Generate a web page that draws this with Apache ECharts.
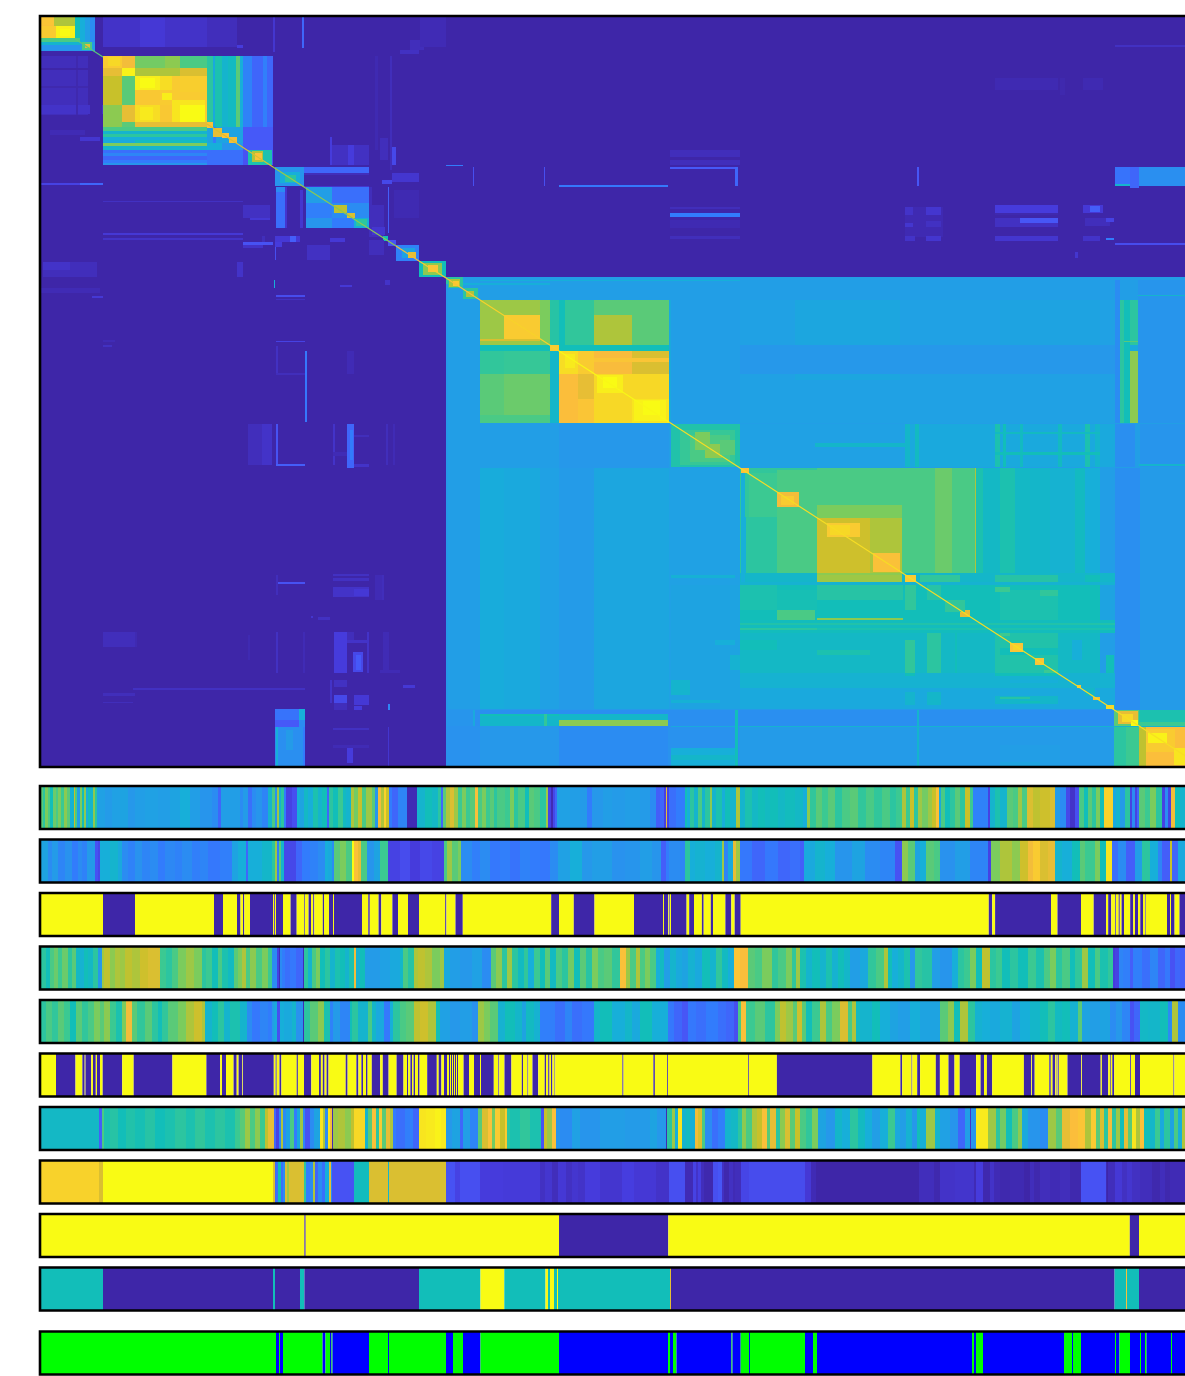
<!DOCTYPE html>
<html><head><meta charset="utf-8">
<style>html,body{margin:0;padding:0;background:#fff;overflow:hidden;width:1185px;height:1376px}#c{width:1240px;height:1376px}</style>
<script src="https://cdn.jsdelivr.net/npm/echarts@6/dist/echarts.min.js"></script></head>
<body><div id="c"></div><script>
// Matrix regions, later entries painted over earlier: [col0,col1,row0,row1,value]
const matrixBase=[
[40,1201,16,767,0],
[446,1201,277,767,.36],
// upper-left cluster
[41,95,17,51,.36],[41,75,17,38,.85],[41,54,17,25,.86],[54,75,17,26,.72],[41,56,26,38,.88],[56,75,26,38,.98],[60,70,29,36,1],
[75,80,17,38,.5],[80,85,17,42,.42],[85,90,17,42,.36],[90,95,17,42,.3],[41,80,38,42,.6],[41,80,42,45,.45],[41,80,45,51,.33],[82,92,42,50,.6],[85,90,44,48,.8],
[103,207,17,47,.05],[140,165,17,47,.07],[207,237,17,47,.03],[237,243,45,48,.08],[302,304,17,48,.2],[273,275,17,52,.06],
// large upper cluster
[103,273,56,165,.2],[103,122,56,68,.88],[108,120,57,66,.92],[122,135,56,68,.82],[103,122,68,76,.8],[122,135,68,76,.98],
[103,122,76,105,.75],[122,135,76,105,.62],[103,122,105,127,.68],[122,135,105,122,.8],[122,135,122,127,.62],
[135,207,56,68,.68],[135,165,56,68,.65],[180,207,56,68,.6],[135,207,68,76,.72],[180,207,68,76,.78],
[135,207,76,127,.88],[135,160,76,90,.97],[140,155,78,88,1],[160,172,76,90,.93],[180,205,76,92,.89],[135,160,90,105,.87],[162,172,93,100,.97],[172,205,100,122,.95],[180,205,105,122,1],[135,160,105,123,.93],[140,153,107,120,.96],[160,172,105,122,.87],[135,207,122,127,.8],
[207,213,56,127,.55],[213,222,56,127,.52],[222,228,56,127,.45],[228,236,56,127,.48],[236,240,56,127,.62],[240,243,56,127,.42],[243,252,56,127,.27],[252,263,56,127,.2],[263,267,56,127,.26],[267,273,56,127,.2],[213,215,56,127,.4],
[103,207,127,131,.6],[103,207,131,134,.45],[103,207,134,137,.55],[103,207,137,140,.42],[103,135,140,143,.4],[135,207,140,143,.48],[103,207,143,146,.66],[103,207,146,150,.45],[103,207,150,153,.22],[103,207,153,156,.28],[103,207,156,160,.2],[103,207,160,163,.25],[103,207,163,165,.33],
[207,243,127,143,.38],[207,222,143,150,.42],[222,243,143,150,.33],[207,243,150,165,.22],[213,216,127,143,.25],[243,273,127,150,.17],[243,273,150,165,.15],[207,213,122,128,.85],[213,222,128,137,.8],[222,229,133,138,.85],[229,237,137,143,.82],[248,272,150,165,.52],[252,263,151,162,.72],[255,262,153,160,.85],
// faint left columns
[41,88,56,115,.03],[41,103,105,114,.05],[41,88,86,88,.01],[76,78,56,115,.01],[90,102,56,165,0],[80,100,137,141,.06],[41,88,68,70,.0],[41,88,122,124,.0],[50,85,130,135,.02],
[43,97,262,277,.03],[43,70,262,270,.05],[237,243,262,277,.05],[41,103,183,185,.1],[80,103,183,185,.2],
// second and third clusters
[275,304,167,186,.33],[280,300,172,183,.42],[285,296,175,182,.55],[304,369,167,173,.2],[304,369,173,175,.03],[304,369,186,187,.06],
[306,369,187,228,.25],[306,332,187,203,.36],[332,369,187,203,.22],[306,332,203,218,.26],[332,369,203,218,.3],[306,332,218,228,.33],[354,369,218,228,.42],[356,367,219,226,.55],[334,347,205,213,.74],[347,355,213,218,.78],
[276,285,187,228,.22],[276,285,187,192,.3],[285,287,187,228,.06],[369,372,187,237,.03],[388,389,187,233,.18],[370,384,205,237,.03],[394,419,190,218,.015],[300,303,190,228,.06],
[332,369,145,165,.04],[348,354,145,165,.08],[390,396,147,165,.12],[392,419,173,182,.06],[382,392,180,184,.12],[330,332,137,165,.08],[375,378,56,150,.015],[390,392,56,170,.03],[380,388,138,160,.03],[400,419,50,54,.04],[410,424,40,50,.03],[420,446,17,47,.02],
[103,243,201,202,.04],[243,270,205,218,.04],[250,270,218,220,.07],[103,243,233,235,.07],[103,243,238,240,.05],[243,273,242,245,.15],[243,263,245,248,.05],[275,276,243,260,.14],[307,330,245,260,.04],[330,345,238,242,.07],[275,300,236,242,.07],[262,265,236,242,.03],[275,282,242,247,.08],[290,296,236,242,.18],
[396,419,245,261,.27],[402,415,248,258,.38],[408,416,252,258,.8],[419,446,261,277,.5],[423,442,263,275,.68],[428,438,265,272,.86],[383,388,236,241,.5],[372,385,227,235,.06],[388,396,240,246,.15],[369,384,240,255,.03],
// thin marks in the upper right
[446,463,165,166,.25],[473,474,167,186,.14],[544,545,167,186,.14],[559,668,185,187,.24],[670,740,150,157,.03],[670,740,160,165,.03],[670,735,167,169,.17],[735,738,167,186,.2],[917,919,167,186,.16],[670,740,207,209,.03],[670,740,213,217,.25],[670,740,220,228,.015],[670,740,236,239,.03],
[995,1058,78,90,.015],[1060,1065,78,95,.01],[1083,1103,78,90,.015],
[905,943,207,237,.015],[905,913,207,215,.05],[926,941,207,215,.06],[926,941,221,227,.04],[905,913,223,227,.06],[995,1058,205,213,.08],[995,1058,213,215,.01],[995,1058,218,227,.04],[1020,1058,218,223,.16],[1083,1103,205,213,.07],[1090,1100,206,212,.18],[1085,1110,218,226,.03],[1106,1114,218,222,.1],[905,915,236,241,.05],[926,941,236,241,.06],[995,1058,236,241,.06],[1083,1100,236,241,.05],[1106,1114,238,240,.25],[1115,1190,243,245,.13],[1075,1078,252,258,.06],
[1115,1130,167,186,.23],[1130,1139,167,186,.2],[1139,1201,167,186,.31],[1115,1130,184,186,.45],[1130,1139,186,188,.2],[1115,1190,45,47,.04],
// right block area
[446,463,277,288,.55],[449,460,279,287,.72],[453,459,281,286,.88],[463,478,288,299,.55],[466,474,291,297,.72],[463,550,283,285,.42],
[480,1201,278,280,.36],[480,740,280,281,.42],
// paired cluster
[480,669,300,423,.6],[480,559,300,345,.7],[504,540,315,339,.88],[480,504,339,343,.7],[480,559,339,341,.78],
[540,550,300,345,.66],[550,559,300,345,.54],[559,594,300,345,.56],[559,565,300,345,.5],[594,669,300,315,.62],[594,632,315,345,.72],[632,669,315,345,.62],[480,669,345,351,.5],[550,559,345,351,.88],
[480,504,351,374,.56],[504,550,351,374,.57],[550,559,351,423,.46],[480,504,374,423,.62],[504,550,374,423,.64],[480,550,415,423,.6],
[559,578,351,374,.93],[565,575,354,368,.96],[578,594,351,374,.88],[594,632,351,374,.83],[632,669,351,374,.78],[594,669,358,362,.86],
[559,578,374,423,.84],[578,594,374,399,.8],[578,594,399,423,.86],[594,632,374,423,.92],[597,623,375,393,.97],[603,617,377,388,1],[632,669,374,399,.92],[632,669,399,423,.95],[634,666,400,421,.98],[643,660,401,415,1],
[669,671,300,423,.4],[1120,1130,300,423,.5],[1130,1138,300,345,.55],[1130,1138,351,423,.68],[1130,1138,345,351,.4],[1120,1138,341,342,.62],[1120,1124,300,423,.55],
[740,1115,300,423,.37],[795,900,300,380,.39],[1000,1100,300,345,.38],[740,1115,345,374,.34],[1115,1120,280,423,.3],[1138,1201,280,423,.33],[1138,1201,295,296,.45],
[480,559,424,468,.36],[559,669,424,468,.34],
// sparse cluster
[671,740,424,467,.53],[680,735,430,465,.57],[690,730,435,462,.6],[705,722,444,458,.68],[695,710,432,450,.66],[720,735,440,455,.62],
[740,905,424,467,.37],[815,905,443,447,.46],[905,1115,424,467,.4],[905,910,424,467,.46],[915,919,424,467,.48],[995,1000,424,467,.52],[1003,1006,424,467,.5],[1020,1023,424,467,.48],[1058,1062,424,467,.48],[1085,1090,424,467,.52],[1095,1100,424,467,.45],[995,1100,432,434,.48],[995,1100,452,455,.5],[1115,1135,424,467,.31],[1140,1201,424,467,.33],[1139,1190,464,466,.45],
// lower columns
[480,504,468,710,.41],[504,540,468,710,.4],[540,559,468,710,.37],[559,594,468,710,.35],[594,669,468,710,.39],[669,740,468,710,.37],[446,448,284,767,.34],[1115,1140,468,710,.31],[1140,1201,468,710,.35],
// long lower-right cluster
[740,1115,468,710,.46],[740,817,468,517,.56],[741,749,468,473,.85],[741,745,473,710,.42],[749,777,473,517,.58],[777,817,470,492,.6],[777,817,492,517,.6],[777,799,492,507,.82],[781,794,496,505,.88],
[817,902,468,518,.6],[817,902,505,518,.66],[902,919,468,573,.6],[919,975,468,573,.6],[935,952,468,573,.64],[975,983,468,573,.52],[983,1000,468,573,.47],[1000,1015,468,573,.52],[1015,1030,468,573,.47],[1030,1050,468,573,.46],[1050,1075,468,573,.44],[1075,1085,468,573,.48],[1085,1100,468,573,.42],[1100,1115,468,573,.36],[975,976,468,573,.72],
[817,870,518,573,.78],[817,870,518,582,.76],[827,860,523,537,.88],[830,850,525,535,.92],[870,902,518,552,.72],[870,902,552,573,.72],[873,900,553,572,.85],[817,902,573,575,.68],[817,902,575,582,.7],[740,817,517,573,.55],[777,817,517,573,.6],[741,746,517,573,.42],
[740,1115,582,585,.44],[905,916,575,582,.88],[920,960,575,582,.56],[995,1058,575,582,.54],[1085,1100,575,582,.5],
[740,1115,585,620,.5],[740,777,585,610,.52],[777,817,590,610,.51],[817,903,585,600,.54],[905,916,585,610,.56],[927,941,585,600,.54],[1000,1058,590,620,.52],[995,1010,587,592,.58],[1040,1058,590,596,.56],[1100,1115,585,633,.38],
[777,815,610,620,.6],[817,903,618,620,.68],[960,970,610,617,.8],[945,965,600,612,.56],
[740,1115,620,633,.49],[740,1115,623,625,.53],[740,1115,628,630,.52],[740,817,628,630,.55],
[740,1115,633,673,.47],[740,777,640,650,.5],[817,870,650,655,.52],[995,1058,633,673,.53],[1000,1058,648,655,.5],[905,915,640,673,.56],[927,941,633,673,.55],[955,957,633,673,.5],[1010,1023,643,652,.86],[1013,1020,645,650,.9],[1035,1044,658,665,.86],[1000,1010,633,636,.58],[1044,1058,670,673,.58],[1072,1082,640,660,.42],[1100,1115,633,673,.36],[1106,1114,655,673,.5],
[740,1115,673,688,.44],[905,915,673,676,.5],[995,1058,673,676,.5],[1010,1058,680,683,.42],[740,1115,688,710,.4],[905,915,692,705,.45],[927,941,692,705,.46],[995,1058,696,704,.46],[1000,1030,697,699,.54],[1020,1040,701,703,.5],[1077,1081,685,688,.86],[1093,1100,697,700,.82],[1106,1114,705,709,.92],[1085,1095,688,696,.46],
[671,735,575,578,.43],[671,740,585,710,.38],[671,690,680,695,.45],[671,720,700,703,.43],[715,735,640,645,.42],[730,740,655,670,.44],
[446,1115,709,711,.34],
// bottom band
[446,1115,710,726,.31],[446,474,710,726,.33],[480,559,714,726,.46],[480,559,714,716,.5],[544,547,714,726,.56],[559,668,714,720,.46],[559,668,720,726,.68],[473,475,710,767,.4],[544,545,726,767,.42],[735,738,710,767,.5],
[446,740,726,767,.32],[739,1114,726,767,.35],[559,668,726,767,.3],[480,559,726,767,.34],[671,735,748,766,.42],[671,735,755,760,.46],[735,738,726,767,.5],[917,919,710,767,.45],[739,1114,726,727,.44],[671,735,726,727,.4],[1000,1060,745,767,.36],[1000,1040,762,767,.38],
// corner cluster
[1114,1139,710,726,.62],[1118,1138,711,724,.8],[1122,1133,714,722,.92],[1131,1138,720,726,1],[1139,1201,710,726,.52],[1139,1201,722,726,.58],[1114,1201,726,727,.45],
[1114,1139,727,767,.58],[1114,1126,727,767,.55],[1139,1201,727,767,.84],[1146,1175,729,752,.88],[1148,1167,733,743,.98],[1174,1185,748,765,.95],[1139,1146,727,767,.74],
// faint left of the right block
[275,305,709,720,.23],[299,305,709,720,.42],[275,305,720,727,.17],[299,305,720,727,.3],[275,305,727,766,.31],[276,278,727,766,.42],[286,293,730,750,.35],[303,305,727,766,.25],[388,389,727,766,.06],
[347,353,748,763,.08],[333,369,728,730,.04],[333,369,745,748,.02],
[347,354,424,468,.2],[350,353,430,460,.25],[276,278,424,465,.15],[276,305,464,466,.18],[248,262,424,465,.03],[262,272,424,465,.05],[333,335,424,465,.05],[354,369,435,437,.03],[333,347,452,456,.02],[386,388,424,465,.03],[393,395,424,465,.02],[354,369,464,467,.05],
[305,307,351,422,.24],[276,278,346,375,.04],[276,305,373,375,.03],[276,305,341,342,.1],[347,354,351,374,.02],[103,115,340,342,.02],[274,275,280,288,.42],[276,305,295,297,.13],[276,305,299,300,.04],[340,352,285,287,.07],[385,390,280,285,.05],[41,100,288,293,.02],[92,103,296,298,.07],[103,112,345,347,.04],
[333,369,574,576,.04],[333,369,578,581,.04],[333,369,587,597,.05],[354,369,589,596,.07],[276,305,582,584,.15],[375,384,575,600,.02],[382,384,575,600,.03],[276,278,575,595,.03],
[334,347,632,673,.08],[347,354,632,640,.03],[347,369,640,643,.05],[353,363,652,672,.12],[356,361,655,670,.17],[367,369,632,673,.05],[276,278,632,673,.04],[303,305,632,673,.02],[383,389,632,673,.02],[103,135,632,647,.03],[135,137,632,647,.015],[248,250,635,660,.015],[318,330,617,620,.04],[311,313,616,618,.06],
[133,305,688,690,.04],[103,135,693,696,.03],[334,347,680,687,.04],[334,347,695,703,.12],[354,369,695,705,.07],[334,347,703,710,.03],[354,362,706,710,.08],[330,332,680,703,.05],[388,390,704,710,.28],[403,415,685,688,.07],[103,133,702,703,.03],[380,400,670,673,.02]
];

// Diagonal traces of the matrix: [col0,row0,col1,row1,value]
const diagonalTrace=[
[75,39,103,57,.62],[207,124,273,167,.78],[273,167,304,187,.7],[304,187,396,246,.68],[396,246,419,261,.82],[419,261,446,278,.88],[446,278,480,300,.85],[480,300,559,351,.9],[559,351,669,422,.99],[669,422,740,468,.93],[740,468,1201,766,.93]
];

// Colour strips: runs of [end column, value]
const strip1=[[43,.62],[45,.55],[48,.66],[50,.6],[53,.5],[56,.64],[58,.6],[61,.66],[64,.58],[67,.68],[70,.62],[72,.42],[74,.45],[75,.75],[77,.6],[80,.36],[82,.66],[84,.5],[86,.68],[88,.42],[90,.5],[93,.45],[95,.68],[97,.55],[105,.37],[112,.35],[120,.37],[128,.38],[135,.34],[145,.36],[158,.37],[170,.36],[180,.38],[190,.42],[200,.36],[212,.33],[218,.3],[221,.2],[240,.36],[243,.3],[248,.35],[252,.22],[256,.3],[262,.33],[268,.28],[272,.45],[275,.6],[277,.32],[279,.7],[281,.45],[284,.55],[286,.25],[292,.1],[297,.14],[300,.42],[304,.38],[308,.47],[313,.42],[318,.52],[322,.45],[327,.5],[329,.2],[333,.55],[338,.5],[343,.58],[346,.48],[351,.45],[354,.72],[358,.65],[362,.75],[366,.6],[372,.7],[375,.62],[378,.33],[381,.82],[384,.72],[386,.9],[389,.75],[392,.25],[398,.2],[407,.28],[417,.02],[425,.45],[432,.5],[438,.47],[441,.55],[443,.2],[446,.62],[450,.72],[454,.78],[458,.7],[462,.58],[466,.66],[470,.58],[475,.62],[478,.85],[482,.6],[486,.66],[490,.58],[494,.62],[497,.55],[505,.6],[510,.58],[514,.66],[518,.55],[525,.6],[529,.5],[534,.62],[540,.6],[546,.55],[548,.7],[551,.1],[553,.02],[555,.12],[557,.2],[570,.37],[580,.36],[587,.35],[592,.25],[603,.34],[612,.36],[625,.35],[640,.36],[650,.35],[656,.3],[660,.18],[664,.2],[666,.1],[667,.8],[669,.1],[676,.22],[685,.25],[687,.5],[690,.42],[694,.55],[698,.45],[702,.6],[705,.45],[710,.55],[712,.68],[716,.45],[722,.52],[725,.42],[730,.5],[733,.45],[736,.45],[740,.72],[745,.45],[752,.52],[758,.47],[765,.5],[770,.48],[778,.5],[785,.47],[795,.49],[803,.47],[807,.42],[810,.68],[816,.56],[822,.62],[828,.58],[835,.62],[842,.55],[850,.6],[858,.62],[866,.56],[874,.6],[882,.56],[890,.6],[896,.55],[902,.58],[906,.72],[910,.58],[914,.75],[918,.55],[922,.7],[928,.65],[932,.7],[936,.75],[939,.85],[941,.4],[945,.6],[950,.5],[955,.55],[960,.62],[965,.55],[970,.75],[973,.58],[988,.27],[990,.1],[995,.45],[1000,.52],[1007,.45],[1013,.62],[1018,.6],[1022,.7],[1027,.6],[1033,.78],[1040,.74],[1050,.76],[1055,.78],[1060,.35],[1066,.3],[1070,.12],[1075,.05],[1079,.14],[1084,.6],[1088,.5],[1092,.62],[1096,.55],[1100,.66],[1104,.5],[1113,.9],[1116,.4],[1120,.45],[1125,.35],[1130,.55],[1132,.1],[1135,.3],[1137,.1],[1139,.2],[1145,.62],[1150,.58],[1156,.66],[1162,.55],[1165,.1],[1168,.3],[1171,.1],[1175,.82],[1180,.5],[1190,.45],[1201,.5]];
const strip2=[[48,.38],[52,.3],[58,.35],[65,.28],[72,.32],[78,.25],[82,.3],[87,.27],[95,.35],[98,.15],[100,.12],[110,.42],[118,.45],[122,.4],[128,.3],[135,.27],[142,.32],[150,.28],[158,.3],[165,.25],[175,.29],[182,.27],[192,.3],[200,.26],[208,.28],[220,.24],[232,.26],[238,.38],[246,.42],[248,.2],[262,.42],[272,.46],[275,.55],[277,.7],[279,.25],[281,.62],[284,.45],[296,.12],[302,.2],[310,.25],[318,.27],[325,.3],[328,.42],[332,.4],[334,.3],[340,.62],[346,.66],[352,.6],[354,1],[358,.85],[361,.8],[367,.6],[374,.33],[380,.38],[388,.58],[400,.1],[410,.13],[420,.08],[432,.12],[444,.1],[447,.6],[452,.7],[458,.62],[461,.66],[472,.3],[480,.26],[490,.3],[500,.24],[510,.26],[520,.23],[530,.27],[540,.25],[550,.24],[558,.3],[570,.37],[582,.42],[592,.34],[612,.36],[625,.32],[640,.33],[652,.36],[661,.33],[666,.18],[669,.25],[680,.3],[685,.28],[690,.55],[695,.42],[705,.44],[715,.42],[722,.45],[724,.7],[728,.28],[733,.4],[736,.8],[740,.7],[752,.24],[765,.2],[778,.24],[790,.2],[800,.22],[804,.18],[815,.4],[825,.45],[835,.42],[852,.33],[865,.38],[880,.3],[895,.28],[902,.15],[908,.68],[915,.62],[920,.38],[926,.42],[934,.62],[940,.6],[955,.32],[970,.36],[988,.28],[991,.1],[1000,.66],[1012,.72],[1020,.68],[1028,.76],[1033,.82],[1040,.88],[1048,.78],[1055,.8],[1062,.45],[1072,.42],[1080,.5],[1085,.62],[1095,.58],[1100,.66],[1106,.5],[1112,.95],[1118,.22],[1126,.3],[1135,.18],[1142,.36],[1150,.55],[1158,.42],[1162,.28],[1170,.18],[1172,.75],[1178,.2],[1185,.4],[1201,.35]];
const strip3Edges=[103,135,214,223,237,240.5,243,244.3,250,273,274.2,275,276,283,290.6,296.7,304,304.8,308.6,311,313.2,314.3,322.8,324,329,333,334,362,368.3,369.8,378.6,381.3,392.4,398,408,419,445.2,446.4,455.5,462.8,551.2,559,573.8,594.5,634,663,664,668.3,669.4,670,671,686.6,689.2,694,701.9,703.7,710.8,713,725.4,731.3,734.7,740.7,988.8,992.2,995.1,1051,1057.5,1081,1093.7,1106,1108.2,1111.2,1115.3,1116,1118.7,1119.8,1121.6,1124,1130.2,1133.2,1135,1138,1140.3,1143,1145.5,1146,1167,1170,1171,1174.6,1179.5,1201];
const strip4=[[46,.55],[50,.5],[54,.6],[58,.64],[62,.58],[68,.64],[72,.55],[76,.62],[80,.47],[84,.44],[88,.5],[93,.47],[98,.55],[102,.34],[104,.7],[110,.74],[115,.68],[120,.72],[125,.7],[132,.74],[140,.72],[148,.76],[160,.78],[166,.58],[172,.55],[178,.6],[186,.66],[194,.7],[202,.66],[206,.55],[212,.58],[218,.5],[222,.6],[228,.52],[234,.48],[238,.62],[242,.66],[246,.72],[250,.6],[256,.68],[262,.6],[268,.66],[272,.58],[277,.3],[279,.1],[280,.02],[282,.3],[285,.25],[290,.22],[296,.24],[303,.2],[304,.02],[308,.55],[312,.45],[316,.6],[320,.66],[325,.5],[330,.55],[335,.45],[340,.52],[345,.5],[349,.45],[354,.52],[356,.82],[360,.44],[365,.5],[370,.36],[380,.35],[390,.37],[400,.4],[403,.46],[408,.6],[414,.54],[418,.72],[425,.74],[432,.72],[440,.66],[444,.7],[450,.4],[460,.36],[472,.34],[482,.37],[491,.3],[496,.62],[502,.68],[507,.55],[512,.7],[518,.55],[524,.48],[528,.56],[534,.42],[540,.58],[545,.5],[550,.62],[556,.48],[562,.6],[568,.55],[574,.65],[580,.5],[586,.62],[592,.54],[598,.66],[604,.6],[612,.62],[620,.56],[626,.85],[630,.7],[636,.6],[640,.72],[645,.6],[650,.66],[656,.6],[660,.42],[664,.48],[670,.36],[676,.45],[682,.4],[688,.38],[695,.44],[702,.4],[710,.5],[716,.45],[722,.56],[728,.48],[734,.42],[740,.86],[748,.84],[755,.62],[762,.6],[772,.66],[778,.56],[786,.6],[792,.66],[796,.56],[800,.7],[806,.52],[812,.45],[820,.5],[826,.45],[832,.52],[838,.44],[844,.5],[850,.46],[860,.36],[868,.4],[876,.56],[884,.6],[888,.72],[892,.5],[898,.42],[904,.46],[910,.52],[915,.34],[922,.56],[932,.54],[940,.36],[952,.33],[958,.42],[964,.55],[970,.58],[976,.66],[982,.5],[990,.74],[996,.55],[1002,.58],[1010,.5],[1018,.55],[1028,.5],[1036,.58],[1044,.52],[1050,.6],[1056,.66],[1062,.55],[1070,.6],[1075,.5],[1082,.56],[1088,.7],[1095,.5],[1100,.6],[1108,.52],[1113,.56],[1115,.08],[1119,.1],[1123,.28],[1130,.26],[1133,.18],[1142,.26],[1150,.22],[1158,.28],[1165,.2],[1170,.24],[1175,.15],[1180,.2],[1190,.18],[1201,.22]];
const strip5=[[46,.55],[52,.6],[58,.56],[64,.62],[70,.58],[76,.5],[82,.62],[88,.56],[94,.6],[100,.66],[104,.62],[110,.68],[116,.58],[122,.52],[126,.66],[132,.82],[137,.62],[145,.56],[152,.62],[158,.55],[162,.5],[168,.56],[178,.62],[186,.66],[194,.72],[202,.76],[205,.72],[212,.45],[218,.5],[224,.55],[230,.45],[240,.52],[247,.45],[252,.3],[260,.24],[268,.28],[272,.25],[274,.35],[277,.4],[280,.14],[284,.42],[292,.4],[296,.45],[303,.32],[304,.02],[310,.55],[318,.62],[324,.68],[330,.52],[333,.27],[340,.35],[350,.28],[352,.5],[358,.55],[368,.45],[372,.6],[376,.46],[384,.4],[390,.24],[393,.42],[400,.55],[406,.6],[414,.62],[420,.74],[428,.76],[436,.72],[440,.5],[450,.37],[460,.34],[472,.36],[478,.32],[484,.7],[490,.66],[498,.62],[505,.44],[515,.5],[522,.46],[526,.38],[534,.48],[540,.44],[555,.26],[565,.22],[572,.28],[582,.22],[594,.24],[600,.46],[612,.5],[625,.42],[632,.46],[640,.4],[652,.5],[668,.42],[674,.24],[682,.2],[688,.16],[696,.24],[706,.22],[718,.25],[726,.22],[734,.2],[738,.14],[741,.6],[746,.85],[755,.58],[765,.62],[775,.55],[780,.66],[786,.74],[793,.7],[797,.62],[802,.76],[806,.62],[812,.5],[820,.58],[826,.72],[832,.6],[840,.66],[848,.78],[852,.6],[856,.72],[860,.48],[872,.45],[880,.5],[890,.42],[898,.38],[910,.36],[920,.42],[932,.38],[940,.38],[948,.62],[954,.68],[960,.5],[968,.72],[975,.55],[982,.44],[990,.42],[1000,.4],[1012,.44],[1020,.38],[1030,.42],[1040,.46],[1048,.5],[1055,.55],[1062,.48],[1070,.5],[1078,.44],[1082,.62],[1090,.38],[1100,.36],[1110,.38],[1116,.3],[1122,.34],[1130,.28],[1134,.15],[1140,.2],[1148,.47],[1160,.46],[1168,.5],[1172,.3],[1178,.72],[1186,.3],[1201,.28]];
const strip6Edges=[56,75.5,82.4,84.7,85.5,91.2,93,95.8,97,100,102.7,122.2,133.7,172.4,206.4,220.2,222,226,233.6,236.7,238.6,242.4,243,273.8,275.7,276.7,279.5,281.4,296.7,297.9,304,311.3,319,320.9,322.8,324.6,326.6,328.5,345.7,347.6,356.4,358.4,361.4,363,366,367.6,371.8,380.2,382.8,388.6,396.6,403.5,407,408.2,410.4,412,413.6,415,418,419.6,427.2,436.8,438.7,441.4,444,447,449,450,451,452,453,454,455,456,457,458,463.6,469,474,480,481,493.8,498.4,499.2,504.5,511.4,521.8,523,527.5,528.3,532.5,538.2,544.7,546,548.2,549.5,551,552.4,554.6,555.2,622.4,623.5,653.4,654.9,667.2,668,748.1,748.9,776.9,872.4,900.4,902.2,911.6,912.3,917.2,920.1,935.8,939.9,948.5,954.5,959.7,976.1,980.6,984,986.9,992.2,1023.9,1031.3,1032,1034.7,1049.3,1050.8,1052.6,1055.2,1056.7,1057.5,1058.3,1059,1067.5,1081.3,1082,1100.7,1101.9,1108.2,1110,1110.8,1112.3,1114.2,1130.2,1131,1135,1140,1173.5,1174.3,1201];
const strip7=[[99,.47],[102,.18],[104,.6],[110,.52],[118,.54],[126,.5],[135,.53],[145,.51],[155,.54],[165,.5],[175,.52],[186,.55],[195,.52],[205,.56],[215,.52],[225,.55],[235,.52],[240,.58],[245,.62],[250,.7],[255,.6],[260,.68],[265,.58],[268,.74],[274,.8],[276,.2],[279,.1],[281,.28],[283,.72],[286,.3],[290,.38],[294,.6],[297,.25],[300,.4],[303,.7],[305,.28],[310,.15],[314,.3],[320,.38],[323,.95],[325,.72],[328,.3],[330,.95],[332,.82],[333,.02],[338,.7],[345,.72],[351,.68],[354,.74],[365,.92],[368,.45],[372,.62],[376,.85],[379,.55],[382,.88],[386,.62],[390,.8],[393,.72],[396,.25],[405,.22],[413,.26],[419,.2],[426,.95],[435,.96],[441,.98],[446,.96],[452,.34],[460,.38],[463,.2],[470,.36],[478,.28],[482,.62],[488,.78],[492,.85],[495,.65],[500,.88],[505,.75],[507,.88],[510,.55],[520,.52],[530,.56],[541,.52],[544,.15],[547,.75],[552,.7],[556,.85],[560,.33],[572,.3],[580,.37],[600,.33],[625,.36],[650,.35],[657,.38],[666,.34],[667,.02],[672,.55],[675,.7],[678,.42],[682,.95],[686,.45],[690,.48],[695,.42],[698,.82],[702,.78],[705,.6],[712,.3],[718,.22],[725,.26],[731,.45],[738,.47],[742,.55],[746,.68],[752,.6],[757,.72],[762,.75],[767,.85],[770,.62],[776,.8],[780,.55],[785,.68],[790,.78],[795,.62],[800,.75],[806,.6],[812,.56],[818,.66],[826,.38],[835,.34],[842,.46],[850,.42],[858,.55],[865,.48],[872,.42],[880,.36],[888,.42],[895,.58],[900,.4],[906,.36],[912,.44],[917,.34],[920,.5],[926,.42],[935,.7],[940,.45],[950,.37],[958,.33],[965,.2],[970,.36],[971,.05],[976,.33],[988,.96],[996,.7],[1000,.55],[1006,.65],[1012,.5],[1018,.6],[1022,.68],[1028,.4],[1040,.33],[1048,.3],[1056,.7],[1062,.62],[1070,.8],[1078,.84],[1085,.86],[1091,.72],[1096,.88],[1100,.62],[1104,.78],[1108,.55],[1112,.82],[1116,.55],[1120,.7],[1124,.5],[1128,.8],[1132,.62],[1136,.95],[1140,.72],[1144,.85],[1150,.5],[1155,.46],[1160,.58],[1164,.4],[1170,.55],[1174,.38],[1178,.6],[1182,.42],[1186,.72],[1190,.55],[1201,.6]];
const strip8=[[99,.9],[103,.78],[273,1],[275,.78],[276,.2],[278,.22],[281,.5],[283,.22],[285,.3],[287,.78],[289,.7],[304,.78],[306,.55],[310,.25],[313,.3],[315,.72],[318,.2],[322,.3],[325,.22],[329,.42],[331,.8],[332,.3],[354,.15],[369,.49],[388,.78],[389,.45],[446,.78],[455,.15],[460,.1],[463,.14],[480,.14],[503,.08],[540,.075],[545,.04],[552,.06],[558,.03],[566,.07],[572,.04],[578,.06],[585,.05],[600,.08],[622,.06],[634,.085],[656,.07],[669,.05],[676,.14],[685,.14],[693,.02],[696,.1],[698,.05],[701,.09],[704,.03],[713,.01],[718,.14],[722,.16],[724,.04],[729,.01],[733,.04],[735,.02],[741,.03],[749,.11],[805,.13],[811,.07],[816,.02],[919,0],[934,.03],[940,.01],[955,.05],[974,.055],[976,.02],[983,.08],[990,.01],[994,.05],[1000,.02],[1010,.01],[1024,.015],[1030,.0],[1034,.03],[1040,.01],[1050,.03],[1060,.02],[1070,.03],[1081,.01],[1106,.15],[1107,.02],[1108,.0],[1110,.03],[1115,.03],[1122,.07],[1127,.04],[1132,.06],[1140,.04],[1152,.03],[1160,.01],[1165,.03],[1170,.01],[1185,.02],[1201,.01]];
const strip9Edges=[304.4,305.7,559,668.3,1129.8,1139,1201];
const strip10=[[103,.5],[273,0],[275,.5],[300,0],[304.4,.5],[419,0],[480.5,.5],[504.3,1],[545.5,.5],[548,1],[550,.5],[554,1],[557,.5],[558,1],[670,.5],[671,.8],[1114.6,0],[1126,.5],[1127,.85],[1139,.5],[1201,0]];
const strip11Edges=[276,279,280,283,322.6,325.5,330,331.5,332.5,369,388,389,446,453,463,480.5,559,668,670,673,676.5,731.5,732.5,740.7,749,750,805,813,817,972,974,976,983,1064,1072,1073,1081,1115,1116,1119.5,1130,1140,1141,1145,1146.5,1171,1172,1201];
const frameTops=[786,839.5,893,946.5,1000,1053.5,1107,1160.5,1214,1267.5,1331.5];
const parula=['#3e26a8','#463cde','#4758f8','#327cfc','#2796eb','#17aeda','#12beb9','#3dc990','#80cc59','#c8c12a','#fbbc3d','#f7d727','#f9fb14'];

function toRuns(arr){let s=40;return arr.map(r=>{const o=[s,r[0],r[1]];s=r[0];return o;});}
function edgeRuns(edges,first,other){let s=40,v=first;return edges.map(e=>{const o=[s,e,v];s=e;v=v===first?other:first;return o;});}
const stripRuns=[toRuns(strip1),toRuns(strip2),edgeRuns(strip3Edges,1,0),toRuns(strip4),toRuns(strip5),edgeRuns(strip6Edges,1,0),toRuns(strip7),toRuns(strip8),edgeRuns(strip9Edges,1,0),toRuns(strip10),edgeRuns(strip11Edges,1,0)];

function rectItem(params,api){
  const a=api.coord([api.value(0),api.value(2)]),b=api.coord([api.value(1),api.value(3)]);
  return {type:'rect',shape:{x:a[0],y:a[1],width:b[0]-a[0],height:b[1]-a[1]},style:{fill:api.visual('color')}};
}
function stripItem(params,api){
  const a=api.coord([api.value(0),0]),b=api.coord([api.value(1),1]);
  return {type:'rect',shape:{x:a[0],y:Math.min(a[1],b[1]),width:b[0]-a[0],height:Math.abs(b[1]-a[1])},style:{fill:api.visual('color')}};
}
function traceItem(params,api){
  const a=api.coord([api.value(0),api.value(1)]),b=api.coord([api.value(2),api.value(3)]);
  return {type:'line',shape:{x1:a[0],y1:a[1],x2:b[0],y2:b[1]},style:{stroke:api.visual('color'),lineWidth:1.1}};
}
const grids=[{left:40,top:16,width:1161,height:751}],xAxes=[{gridIndex:0,type:'value',min:40,max:1201,show:false}],yAxes=[{gridIndex:0,type:'value',min:16,max:767,inverse:true,show:false}];
const series=[
 {type:'custom',xAxisIndex:0,yAxisIndex:0,renderItem:rectItem,encode:{x:[0,1],y:[2,3]},data:matrixBase,z:2,silent:true},
 {type:'custom',xAxisIndex:0,yAxisIndex:0,renderItem:traceItem,encode:{x:[0,2],y:[1,3]},data:diagonalTrace,z:3,silent:true}
];
frameTops.forEach((t,i)=>{
  const g=i+1;
  grids.push({left:40,top:t,width:1161,height:43});
  xAxes.push({gridIndex:g,type:'value',min:40,max:1201,show:false});
  yAxes.push({gridIndex:g,type:'value',min:0,max:1,show:false});
  series.push({type:'custom',xAxisIndex:g,yAxisIndex:g,renderItem:stripItem,encode:{x:[0,1]},data:stripRuns[i],z:2,silent:true});
});
grids.forEach(g=>{g.show=true;g.z=5;g.backgroundColor='transparent';g.borderColor='#000';g.borderWidth=2.6;g.containLabel=false;});
const lastSeries=series.length-1;
const parulaSeries=series.map((s,i)=>i).filter(i=>i!==lastSeries);
const chart=echarts.init(document.getElementById('c'),null,{renderer:'canvas'});
chart.setOption({
 animation:false,backgroundColor:'#fff',tooltip:{show:false},
 grid:grids,xAxis:xAxes,yAxis:yAxes,
 visualMap:[
  {show:false,type:'continuous',seriesIndex:[0],dimension:4,min:0,max:1,inRange:{color:parula}},
  {show:false,type:'continuous',seriesIndex:[1],dimension:4,min:0,max:1,inRange:{color:parula}},
  {show:false,type:'continuous',seriesIndex:parulaSeries.slice(2),dimension:2,min:0,max:1,inRange:{color:parula}},
  {show:false,type:'continuous',seriesIndex:[lastSeries],dimension:2,min:0,max:1,inRange:{color:['#0000ff','#00ff00']}}
 ],
 series
});
</script></body></html>
